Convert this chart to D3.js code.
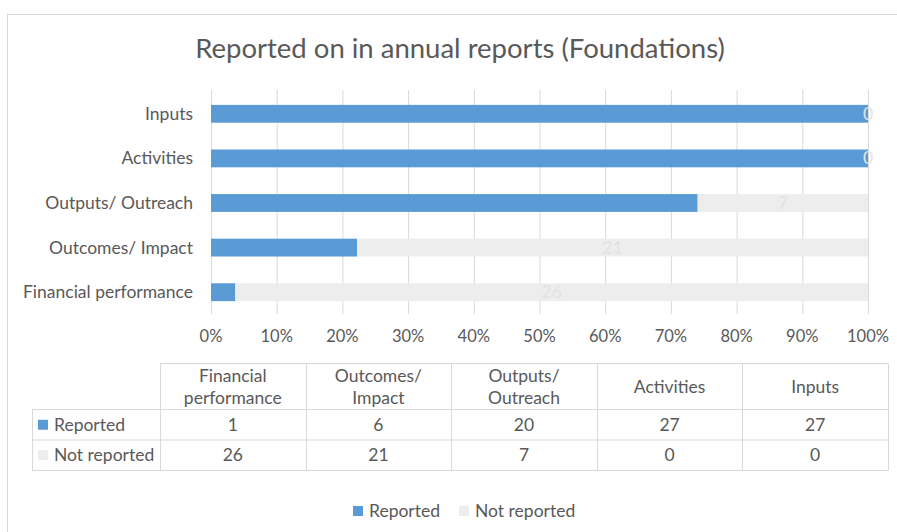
<!DOCTYPE html>
<html>
<head>
<meta charset="utf-8">
<script src="https://cdn.jsdelivr.net/npm/d3@7"></script>
<style>
  body { margin: 0; background: #fff; }
  text { font-family: Lato, "Open Sans", sans-serif; fill: #595959; }
</style>
</head>
<body>
<div id="chart"></div>
<script>
const categories = ["Financial performance", "Outcomes/ Impact", "Outputs/ Outreach", "Activities", "Inputs"];
const headerLines = [["Financial", "performance"], ["Outcomes/", "Impact"], ["Outputs/", "Outreach"], ["Activities"], ["Inputs"]];
const reported = [1, 6, 20, 27, 27];
const notReported = [26, 21, 7, 0, 0];
const seriesNames = ["Reported", "Not reported"];
const tickValues = [0, 0.1, 0.2, 0.3, 0.4, 0.5, 0.6, 0.7, 0.8, 0.9, 1];

const W = 897, H = 532;
const colors = ["#5b9bd5", "#ededed"];
const lineColor = "#d9d9d9";
const fs = "17.5px";

const svg = d3.select("#chart").append("svg")
  .attr("width", W)
  .attr("height", H);

// chart frame
svg.append("rect")
  .attr("x", 7.5).attr("y", 14.5)
  .attr("width", W + 10).attr("height", H + 10)
  .attr("fill", "none")
  .attr("stroke", lineColor);

// title
svg.append("text")
  .attr("x", 460).attr("y", 58)
  .attr("text-anchor", "middle")
  .style("font-size", "27.5px")
  .text("Reported on in annual reports (Foundations)");

const data = categories.map((c, i) => ({ cat: c, rep: reported[i], not: notReported[i], total: reported[i] + notReported[i] }));

const x = d3.scaleLinear().domain([0, 1]).range([211, 868]);
const y = d3.scaleBand()
  .domain(categories.slice().reverse())
  .range([91.5, 314.5])
  .paddingInner(0.6)
  .paddingOuter(0.3);

// gridlines
const grid = svg.append("g")
  .attr("transform", "translate(0,90)")
  .call(d3.axisBottom(x).tickValues(tickValues).tickSize(224).tickFormat(""));
grid.select(".domain").remove();
grid.selectAll("line").attr("stroke", lineColor);

// tick labels
svg.append("g")
  .selectAll("text")
  .data(tickValues)
  .join("text")
  .attr("x", d => x(d))
  .attr("y", 342)
  .attr("text-anchor", "middle")
  .style("font-size", "16.5px")
  .text(d => d3.format(".0%")(d));

// category labels
svg.append("g")
  .selectAll("text")
  .data(categories)
  .join("text")
  .attr("x", 193)
  .attr("y", d => y(d) + y.bandwidth() / 2 + 6)
  .attr("text-anchor", "end")
  .style("font-size", fs)
  .text(d => d);

// stacked bars
const bars = svg.append("g");
bars.selectAll("rect.rep")
  .data(data)
  .join("rect")
  .attr("class", "rep")
  .attr("x", x(0))
  .attr("y", d => y(d.cat))
  .attr("width", d => x(d.rep / d.total) - x(0))
  .attr("height", y.bandwidth())
  .attr("fill", colors[0]);
bars.selectAll("rect.not")
  .data(data)
  .join("rect")
  .attr("class", "not")
  .attr("x", d => x(d.rep / d.total))
  .attr("y", d => y(d.cat))
  .attr("width", d => x(1) - x(d.rep / d.total))
  .attr("height", y.bandwidth())
  .attr("fill", colors[1]);

// data labels for Not reported
bars.selectAll("text")
  .data(data)
  .join("text")
  .attr("x", d => x((d.rep + d.total) / 2 / d.total))
  .attr("y", d => y(d.cat) + y.bandwidth() / 2 + 6)
  .attr("text-anchor", "middle")
  .style("font-size", fs)
  .style("fill", d => d.not === 0 ? "#e4e4e4" : "#e2e2e2")
  .text(d => d.not);

// data table
const col = d3.scaleBand().domain(categories).range([160, 888]);
const rowY = [363.5, 409.5, 440, 470.5];
const tbl = svg.append("g");
const tline = (x1, y1, x2, y2) => tbl.append("line")
  .attr("x1", x1).attr("y1", y1).attr("x2", x2).attr("y2", y2)
  .attr("stroke", lineColor);

tline(160, rowY[0], 888, rowY[0]);
tline(32, rowY[1], 888, rowY[1]);
tline(32, rowY[2], 888, rowY[2]);
tline(32, rowY[3], 888, rowY[3]);
tline(32.5, rowY[1], 32.5, rowY[3]);
categories.forEach(c => tline(Math.round(col(c)) + 0.5, rowY[0], Math.round(col(c)) + 0.5, rowY[3]));
tline(888.5, rowY[0], 888.5, rowY[3]);

// header cells
categories.forEach((c, i) => {
  const lines = headerLines[i];
  const cy = (rowY[0] + rowY[1]) / 2;
  lines.forEach((ln, j) => {
    tbl.append("text")
      .attr("x", col(c) + col.bandwidth() / 2)
      .attr("y", cy + 6 + (j - (lines.length - 1) / 2) * 22)
      .attr("text-anchor", "middle")
      .style("font-size", fs)
      .text(ln);
  });
});

// value rows
[reported, notReported].forEach((vals, r) => {
  const cy = (rowY[r + 1] + rowY[r + 2]) / 2;
  tbl.append("rect")
    .attr("x", 38).attr("y", cy - 5)
    .attr("width", 10).attr("height", 10)
    .attr("fill", colors[r]);
  tbl.append("text")
    .attr("x", 54).attr("y", cy + 6)
    .style("font-size", fs)
    .text(seriesNames[r]);
  vals.forEach((v, i) => {
    tbl.append("text")
      .attr("x", col(categories[i]) + col.bandwidth() / 2)
      .attr("y", cy + 6)
      .attr("text-anchor", "middle")
      .style("font-size", fs)
      .text(v);
  });
});

// legend
const legendX = [353, 459];
const legend = svg.append("g");
seriesNames.forEach((s, i) => {
  legend.append("rect")
    .attr("x", legendX[i]).attr("y", 506)
    .attr("width", 10).attr("height", 10)
    .attr("fill", colors[i]);
  legend.append("text")
    .attr("x", legendX[i] + 16).attr("y", 517)
    .style("font-size", fs)
    .text(s);
});
</script>
</body>
</html>
